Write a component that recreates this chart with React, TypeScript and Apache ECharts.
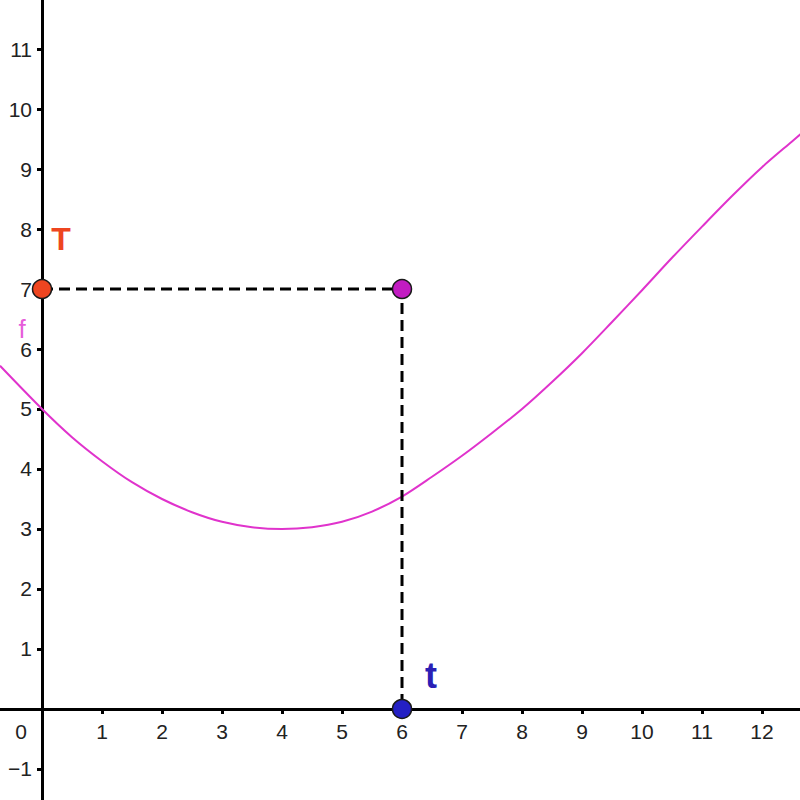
import React, { useEffect, useRef } from 'react';
import * as echarts from 'echarts';

// f
const curveX = [-0.7, 0, 0.5, 1, 1.5, 2, 2.5, 3, 3.5, 4, 4.5, 5, 5.5, 6, 6.5, 7, 7.5, 8, 8.5, 9, 9.5, 10, 10.5, 11, 11.5, 12, 12.5, 12.7];
const curveY = [5.72, 5.0, 4.53, 4.13, 3.78, 3.5, 3.28, 3.12, 3.03, 3.0, 3.03, 3.12, 3.29, 3.54, 3.87, 4.22, 4.6, 5.0, 5.45, 5.93, 6.45, 6.98, 7.52, 8.04, 8.55, 9.03, 9.46, 9.63];

// points T, (t, T) and t
const pointNames = ['T', '', 't'];
const pointX = [0, 6, 6];
const pointY = [7, 7, 0];

const xRange = [-0.7, 12.633];
const yRange = [-1.517, 11.817];

const SIZE = 800;

const App: React.FC = () => {
  const chartRef = useRef<HTMLDivElement>(null);

  useEffect(() => {
    document.body.style.margin = '0';
    const chart = echarts.init(chartRef.current!, undefined, { renderer: 'svg' });

    const font = 'Arial, "Liberation Sans", sans-serif';
    // axes cross at the origin: shift them in from the grid edges
    const yAxisShift = ((0 - xRange[0]) / (xRange[1] - xRange[0])) * SIZE;
    const xAxisShift = ((0 - yRange[0]) / (yRange[1] - yRange[0])) * SIZE;

    const axisCommon = {
      type: 'value' as const,
      minInterval: 1,
      maxInterval: 1,
      splitNumber: 13,
      splitLine: { show: false },
      axisLine: { onZero: false, lineStyle: { color: '#000', width: 3 } },
      axisTick: { length: 5, lineStyle: { color: '#000', width: 3 } },
    };

    const colors = ['#ee4520', '#c21cc2', '#2420c4'];
    const labelColors = ['#ee4520', '#c21cc2', '#2a1fb5'];
    const labelOffsets = [[19, -50], [0, 0], [29, -33]];

    chart.setOption({
      animation: false,
      grid: { left: 0, right: 0, top: 0, bottom: 0, outerBoundsMode: 'none' },
      xAxis: {
        ...axisCommon,
        position: 'bottom',
        offset: -xAxisShift,
        min: xRange[0],
        max: xRange[1],
        axisLabel: {
          showMinLabel: false,
          showMaxLabel: false,
          margin: 12,
          fontSize: 21,
          fontFamily: font,
          color: '#222',
          formatter: (v: number) => (v === 0 ? '{z|0}' : String(v).replace('-', '−')),
          rich: { z: { fontSize: 21, fontFamily: font, color: '#222', padding: [0, 42, 0, 0] } },
        },
      },
      yAxis: {
        ...axisCommon,
        position: 'left',
        offset: -yAxisShift,
        min: yRange[0],
        max: yRange[1],
        axisLabel: {
          showMinLabel: false,
          showMaxLabel: false,
          margin: 10,
          fontSize: 21,
          fontFamily: font,
          color: '#222',
          formatter: (v: number) => (v === 0 ? '' : String(v).replace('-', '−')),
        },
      },
      series: [
        {
          name: 'f',
          type: 'line',
          smooth: 0.3,
          showSymbol: false,
          data: curveX.map((x, i) => [x, curveY[i]]),
          lineStyle: { color: '#e033cc', width: 2 },
          z: 2,
        },
        {
          type: 'scatter',
          symbolSize: 0,
          data: [
            {
              value: [curveX[0], curveY[0]],
              label: {
                show: true,
                formatter: 'f',
                position: 'inside',
                offset: [22, -37],
                fontSize: 26,
                fontFamily: font,
                color: '#e030d0',
              },
            },
          ],
          silent: true,
          z: 3,
        },
        {
          type: 'line',
          symbol: 'none',
          data: pointX.map((x, i) => [x, pointY[i]]),
          lineStyle: { color: '#000', width: 3, type: [11, 6] },
          z: 3,
        },
        {
          type: 'scatter',
          symbolSize: 19,
          data: pointX.map((x, i) => ({
            value: [x, pointY[i]],
            itemStyle: { color: colors[i], borderColor: '#1a1a1a', borderWidth: 1.5, opacity: 1 },
            label: {
              show: pointNames[i] !== '',
              formatter: pointNames[i],
              position: 'inside',
              offset: labelOffsets[i],
              fontSize: pointNames[i] === 'T' ? 32 : 36,
              fontWeight: 'bold',
              fontFamily: font,
              color: labelColors[i],
            },
          })),
          z: 5,
        },
      ],
    });

    return () => {
      chart.dispose();
    };
  }, []);

  return <div ref={chartRef} style={{ width: SIZE + 'px', height: SIZE + 'px' }} />;
};

export default App;
